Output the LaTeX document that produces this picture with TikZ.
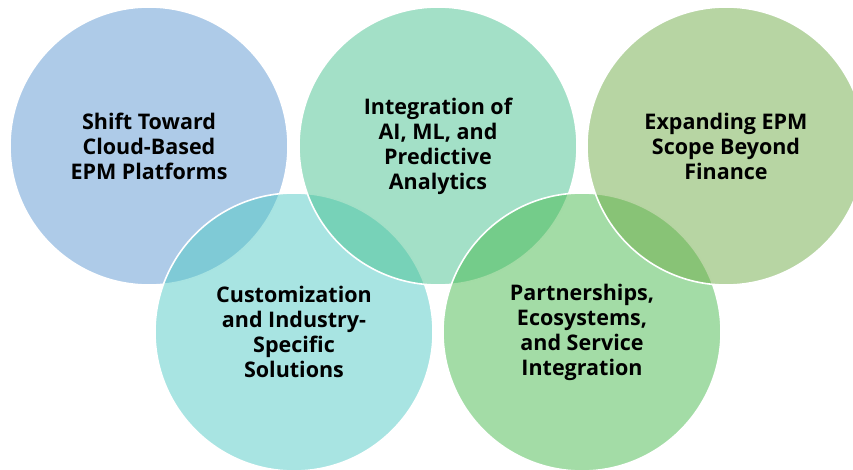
\documentclass[tikz,border=0pt]{standalone}
\usepackage{fontspec}
\setmainfont{Open Sans}
\usepackage{tikz}
\definecolor{cblue}  {RGB}{93,151,209}
\definecolor{cmint}  {RGB}{71,193,143}
\definecolor{colive} {RGB}{111,171,71}
\definecolor{ccyan}  {RGB}{81,201,197}
\definecolor{cgreen} {RGB}{71,185,77}
\tikzset{
    bubble/.style={circle, draw=white, line width=1.6pt, fill opacity=0.5,
             text opacity=1, minimum size=278pt, inner sep=0pt,
             align=center, font=\bfseries\fontsize{21.5}{25}\selectfont}
  }
\begin{document}
\begin{tikzpicture}[x=1pt, y=-1pt]
  \useasboundingbox (0,0) rectangle (853,470);
  %Cloud
      \node[bubble, fill=cblue] (cloud) at (149,146) {Shift Toward\\Cloud-Based\\EPM Platforms};
  %Customization
      \node[bubble, fill=ccyan] (custom) at (294,332) {Customization\\and Industry-\\Specific\\Solutions};
  %AI and ML
      \node[bubble, fill=cmint] (ai) at (438,146) {Integration of\\AI, ML, and\\Predictive\\Analytics};
  %Partnerships
      \node[bubble, fill=cgreen] (partner) at (582,332) {Partnerships,\\Ecosystems,\\and Service\\Integration};
  %Scope
      \node[bubble, fill=colive] (scope) at (726,146) {Expanding EPM\\Scope Beyond\\Finance};
\end{tikzpicture}
\end{document}
